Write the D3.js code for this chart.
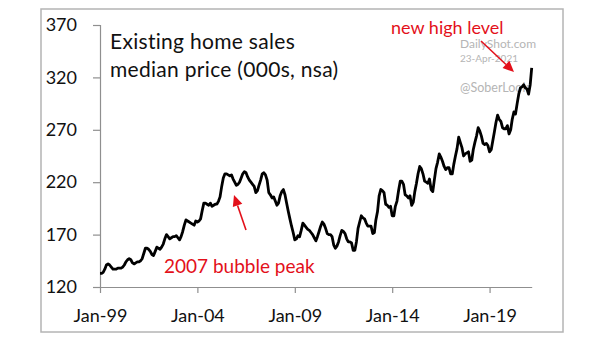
<!DOCTYPE html>
<html>
<head>
<meta charset="utf-8">
<script src="https://cdn.jsdelivr.net/npm/d3@7"></script>
<style>
  body { margin: 0; background: #fff; }
  text { font-family: Lato, 'Open Sans', sans-serif; }
</style>
</head>
<body>
<script>
// median price, 000s, monthly from Jan-1999 to Mar-2021
var startMonth = new Date(1999, 0, 1);
var prices = [
  133, 133, 134, 137, 141, 142, 141, 139, 137, 137, 137, 138,  // 1999
  138, 138, 139, 141, 144, 146, 147, 146, 143, 142, 143, 144,  // 2000
  144, 145, 147, 152, 157, 157, 156, 154, 151, 150, 154, 158,  // 2001
  157, 156, 158, 161, 166, 170, 168, 166, 167, 168, 168, 169,  // 2002
  167, 165, 168, 173, 179, 184, 183, 182, 181, 180, 179, 183,  // 2003
  182, 183, 185, 193, 200, 200, 199, 198, 200, 197, 198, 199,  // 2004
  199, 202, 206, 216, 224, 228, 228, 227, 226, 227, 223, 220,  // 2005
  217, 218, 220, 224, 228, 230, 229, 225, 222, 220, 218, 216,  // 2006
  210, 212, 217, 222, 228, 229, 227, 222, 210, 208, 205, 206,  // 2007
  202, 198, 200, 207, 211, 213, 208, 200, 192, 185, 178, 172,  // 2008
  165, 166, 169, 168, 174, 181, 179, 177, 175, 174, 172, 170,  // 2009
  167, 164, 168, 173, 178, 182, 180, 176, 171, 170, 170, 168,  // 2010
  160, 157, 159, 163, 169, 174, 173, 171, 166, 163, 163, 162,  // 2011
  155, 155, 163, 176, 182, 188, 186, 185, 181, 178, 178, 178,  // 2012
  171, 172, 184, 192, 207, 213, 212, 210, 199, 198, 196, 197,  // 2013
  188, 188, 197, 202, 212, 221, 221, 218, 208, 207, 205, 207,  // 2014
  198, 201, 211, 219, 228, 235, 233, 228, 221, 220, 219, 223,  // 2015
  213, 211, 222, 233, 239, 247, 244, 240, 235, 232, 234, 234,  // 2016
  228, 228, 237, 245, 252, 263, 258, 253, 245, 247, 248, 249,  // 2017
  240, 241, 251, 258, 264, 272, 269, 264, 257, 256, 257, 255,  // 2018
  249, 251, 259, 268, 277, 284, 280, 278, 272, 271, 271, 274,  // 2019
  266, 270, 280, 287, 285, 295, 304, 310, 311, 313, 310, 309,  // 2020
  304, 313, 329                                                // 2021
];

var yTicks = [120, 170, 220, 270, 320, 370];
var xTickYears = [1999, 2004, 2009, 2014, 2019];
var titleLines = ['Existing home sales', 'median price (000s, nsa)'];
var peakLabel = '2007 bubble peak';
var highLabel = 'new high level';
var watermark = ['DailyShot.com', '23-Apr-2021', '@SoberLook'];

var data = prices.map(function(v, i) {
  return { date: d3.timeMonth.offset(startMonth, i), value: v };
});

var svg = d3.select('body').append('svg')
    .attr('width', 605)
    .attr('height', 341);

// outer frame
svg.append('rect')
    .attr('x', 41)
    .attr('y', 9)
    .attr('width', 522)
    .attr('height', 323)
    .attr('fill', 'none')
    .attr('stroke', '#b4b4b4')
    .attr('stroke-width', 1.5);

var x = d3.scaleTime()
    .domain([data[0].date, data[data.length - 1].date])
    .range([100, 531.7]);

var y = d3.scaleLinear()
    .domain([120, 370])
    .range([287, 25]);

// y axis
var yAxis = svg.append('g')
    .attr('transform', 'translate(100,0)')
    .call(d3.axisLeft(y).tickValues(yTicks).tickSize(7).tickPadding(16));
yAxis.select('.domain').attr('stroke', '#8f8f8f').attr('stroke-width', 1.2);
yAxis.selectAll('.tick line').attr('stroke', '#8f8f8f').attr('stroke-width', 1.2);
yAxis.selectAll('.tick text')
    .attr('font-size', 18)
    .attr('font-family', 'Lato')
    .attr('fill', '#111');

// x axis
var xAxis = svg.append('g')
    .attr('transform', 'translate(0,287)')
    .call(d3.axisBottom(x)
        .tickValues(xTickYears.map(function(yr) { return new Date(yr, 0, 1); }))
        .tickFormat(d3.timeFormat('Jan-%y'))
        .tickSize(6)
        .tickSizeOuter(0)
        .tickPadding(16));
xAxis.select('.domain').attr('stroke', '#8f8f8f').attr('stroke-width', 1.2);
xAxis.selectAll('.tick line').attr('stroke', '#8f8f8f').attr('stroke-width', 1.2);
xAxis.selectAll('.tick text')
    .attr('font-size', 18)
    .attr('font-family', 'Lato')
    .attr('fill', '#111');

// watermark
svg.append('text')
    .attr('x', 460).attr('y', 48)
    .attr('font-family', 'Liberation Sans, Arial, sans-serif')
    .attr('font-size', 12)
    .attr('fill', '#b5b5b5')
    .text(watermark[0]);
svg.append('text')
    .attr('x', 460).attr('y', 62)
    .attr('font-family', 'Liberation Sans, Arial, sans-serif')
    .attr('font-size', 10)
    .attr('fill', '#b5b5b5')
    .text(watermark[1]);
svg.append('text')
    .attr('x', 460).attr('y', 92)
    .attr('font-family', 'Liberation Sans, Arial, sans-serif')
    .attr('font-size', 12.5)
    .attr('fill', '#b5b5b5')
    .text(watermark[2]);

// the price line
var line = d3.line()
    .x(function(d) { return x(d.date); })
    .y(function(d) { return y(d.value); });

svg.append('path')
    .datum(data)
    .attr('d', line)
    .attr('fill', 'none')
    .attr('stroke', '#000')
    .attr('stroke-width', 2.8)
    .attr('stroke-linejoin', 'round');

// title
svg.selectAll('.title')
    .data(titleLines)
    .enter().append('text')
    .attr('class', 'title')
    .attr('x', 110)
    .attr('y', function(d, i) { return 49 + i * 28; })
    .attr('font-size', 21)
    .attr('letter-spacing', 0.3)
    .attr('fill', '#111')
    .text(function(d) { return d; });

// red annotations
var red = '#e3101a';

function arrow(x1, y1, x2, y2) {
  var ang = Math.atan2(y2 - y1, x2 - x1);
  var len = 11, half = 5;
  var bx = x2 - len * Math.cos(ang), by = y2 - len * Math.sin(ang);
  svg.append('line')
      .attr('x1', x1).attr('y1', y1)
      .attr('x2', bx).attr('y2', by)
      .attr('stroke', red)
      .attr('stroke-width', 1.6);
  svg.append('polygon')
      .attr('points', [
        [x2, y2],
        [bx + half * Math.sin(ang), by - half * Math.cos(ang)],
        [bx - half * Math.sin(ang), by + half * Math.cos(ang)]
      ].map(function(p) { return p.join(','); }).join(' '))
      .attr('fill', red);
}

svg.append('text')
    .attr('x', 164)
    .attr('y', 273)
    .attr('font-size', 19)
    .attr('fill', red)
    .text(peakLabel);
arrow(246, 230, 234, 195);

svg.append('text')
    .attr('x', 391)
    .attr('y', 34)
    .attr('font-size', 18)
    .attr('fill', red)
    .text(highLabel);
arrow(481, 41, 514, 72);
</script>
</body>
</html>
